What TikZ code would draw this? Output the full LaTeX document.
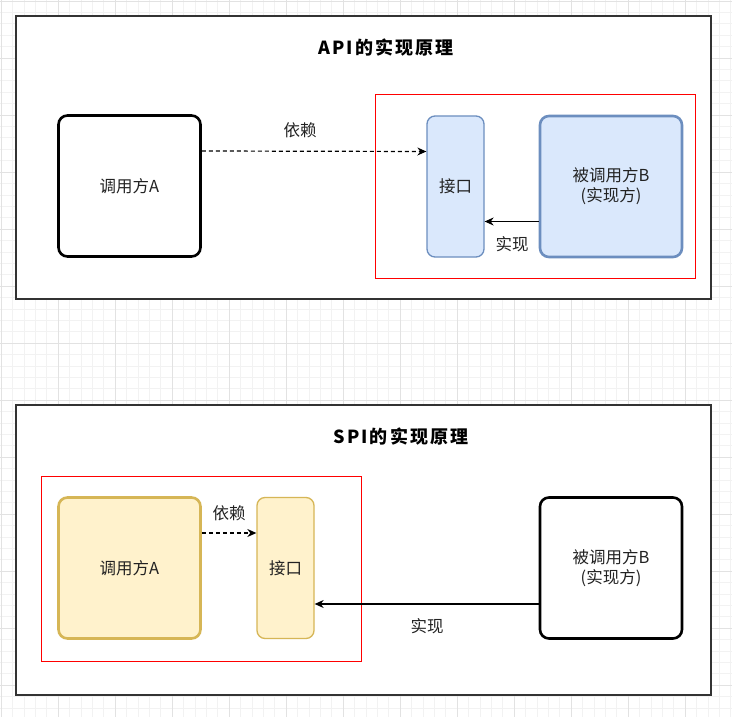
\documentclass[tikz,border=0pt]{standalone}
\usepackage{fontspec}
\setmainfont{Noto Sans CJK SC}
\usetikzlibrary{arrows.meta,positioning,calc}

\definecolor{bluefill}{HTML}{DAE8FC}
\definecolor{blueline}{HTML}{6C8EBF}
\definecolor{yellowfill}{HTML}{FFF2CC}
\definecolor{yellowline}{HTML}{D6B656}
\definecolor{gridminor}{HTML}{F2F2F2}
\definecolor{gridmajor}{HTML}{E2E2E2}
\definecolor{framegray}{HTML}{333333}
\definecolor{textgray}{HTML}{222222}

\begin{document}
\begin{tikzpicture}[x=1pt, y=-1pt, >={Stealth[length=9pt,width=8pt]}, font=\fontsize{16.5}{20}\selectfont,
  frame/.style={draw=framegray, line width=1.4pt, fill=white, inner sep=0pt},
  scopebox/.style={draw=red, line width=0.8pt, inner sep=0pt},
  party/.style={draw=black, line width=2.6pt, rounded corners=9pt, fill=white, inner sep=0pt,
    minimum width=142pt, minimum height=141pt, text=textgray, align=center},
  iface/.style={line width=1.3pt, rounded corners=8pt, inner sep=0pt,
    minimum width=57pt, minimum height=141pt, text=textgray},
  title/.style={font=\fontsize{18}{22}\selectfont\bfseries\addfontfeature{LetterSpace=12}},
  dep/.style={->, dashed, dash pattern=on 4pt off 3pt, line width=1.2pt},
  impl/.style={->, line width=1.2pt},
  lbl/.style={text=textgray, inner sep=1pt}]
  \useasboundingbox (0,0) rectangle (732,717);

  % grid background
  \foreach \i in {0,...,64} {
    \draw[gridminor, line width=0.6pt] ({\i*11.4+1},0) -- ({\i*11.4+1},717);
    \draw[gridminor, line width=0.6pt] (0,{\i*11.4+1}) -- (732,{\i*11.4+1});
  }
  \foreach \i in {0,...,12} {
    \draw[gridmajor, line width=0.7pt] ({\i*57+1},0) -- ({\i*57+1},717);
    \draw[gridmajor, line width=0.7pt] (0,{\i*57+1}) -- (732,{\i*57+1});
  }

  % API
  \node[frame, minimum width=695pt, minimum height=283pt] (apiframe) at (363.5,157.5) {};
  \node[title] (apititle) at (386,48) {API的实现原理};
  \node[scopebox, minimum width=320pt, minimum height=184pt] (apiscope) at (535,186) {};
  \node[party] (apicaller) at (129.5,186) {调用方A};
  \node[iface, draw=blueline, fill=bluefill] (apiiface) at (455.5,186.5) {接口};
  \node[party, draw=blueline, fill=bluefill] (apiimpl) at (611,186.5) {被调用方B\\(实现方)};

  \draw[dep] ([yshift=35pt]apicaller.east) -- ([yshift=35pt]apiiface.west);
  \node[lbl] (apidep) at (300,130) {依赖};
  \draw[impl] ([yshift=-35pt]apiimpl.west) -- ([yshift=-35pt]apiiface.east);
  \node[lbl] (apiimpllbl) at (512,244) {实现};

  % SPI
  \node[frame, minimum width=695pt, minimum height=290pt] (spiframe) at (363.5,550) {};
  \node[title] (spititle) at (401,437) {SPI的实现原理};
  \node[scopebox, minimum width=320pt, minimum height=185pt] (spiscope) at (201,568.5) {};
  \node[party, draw=yellowline, fill=yellowfill] (spicaller) at (129.5,568) {调用方A};
  \node[iface, draw=yellowline, fill=yellowfill] (spiiface) at (285.5,568) {接口};
  \node[party] (spiimpl) at (611,568) {被调用方B\\(实现方)};

  \draw[dep] ([yshift=35pt]spicaller.east) -- ([yshift=35pt]spiiface.west);
  \node[lbl] (spidep) at (229,513) {依赖};
  \draw[impl] ([yshift=-36pt]spiimpl.west) -- ([yshift=-36pt]spiiface.east);
  \node[lbl] (spiimpllbl) at (427,626) {实现};
\end{tikzpicture}
\end{document}
